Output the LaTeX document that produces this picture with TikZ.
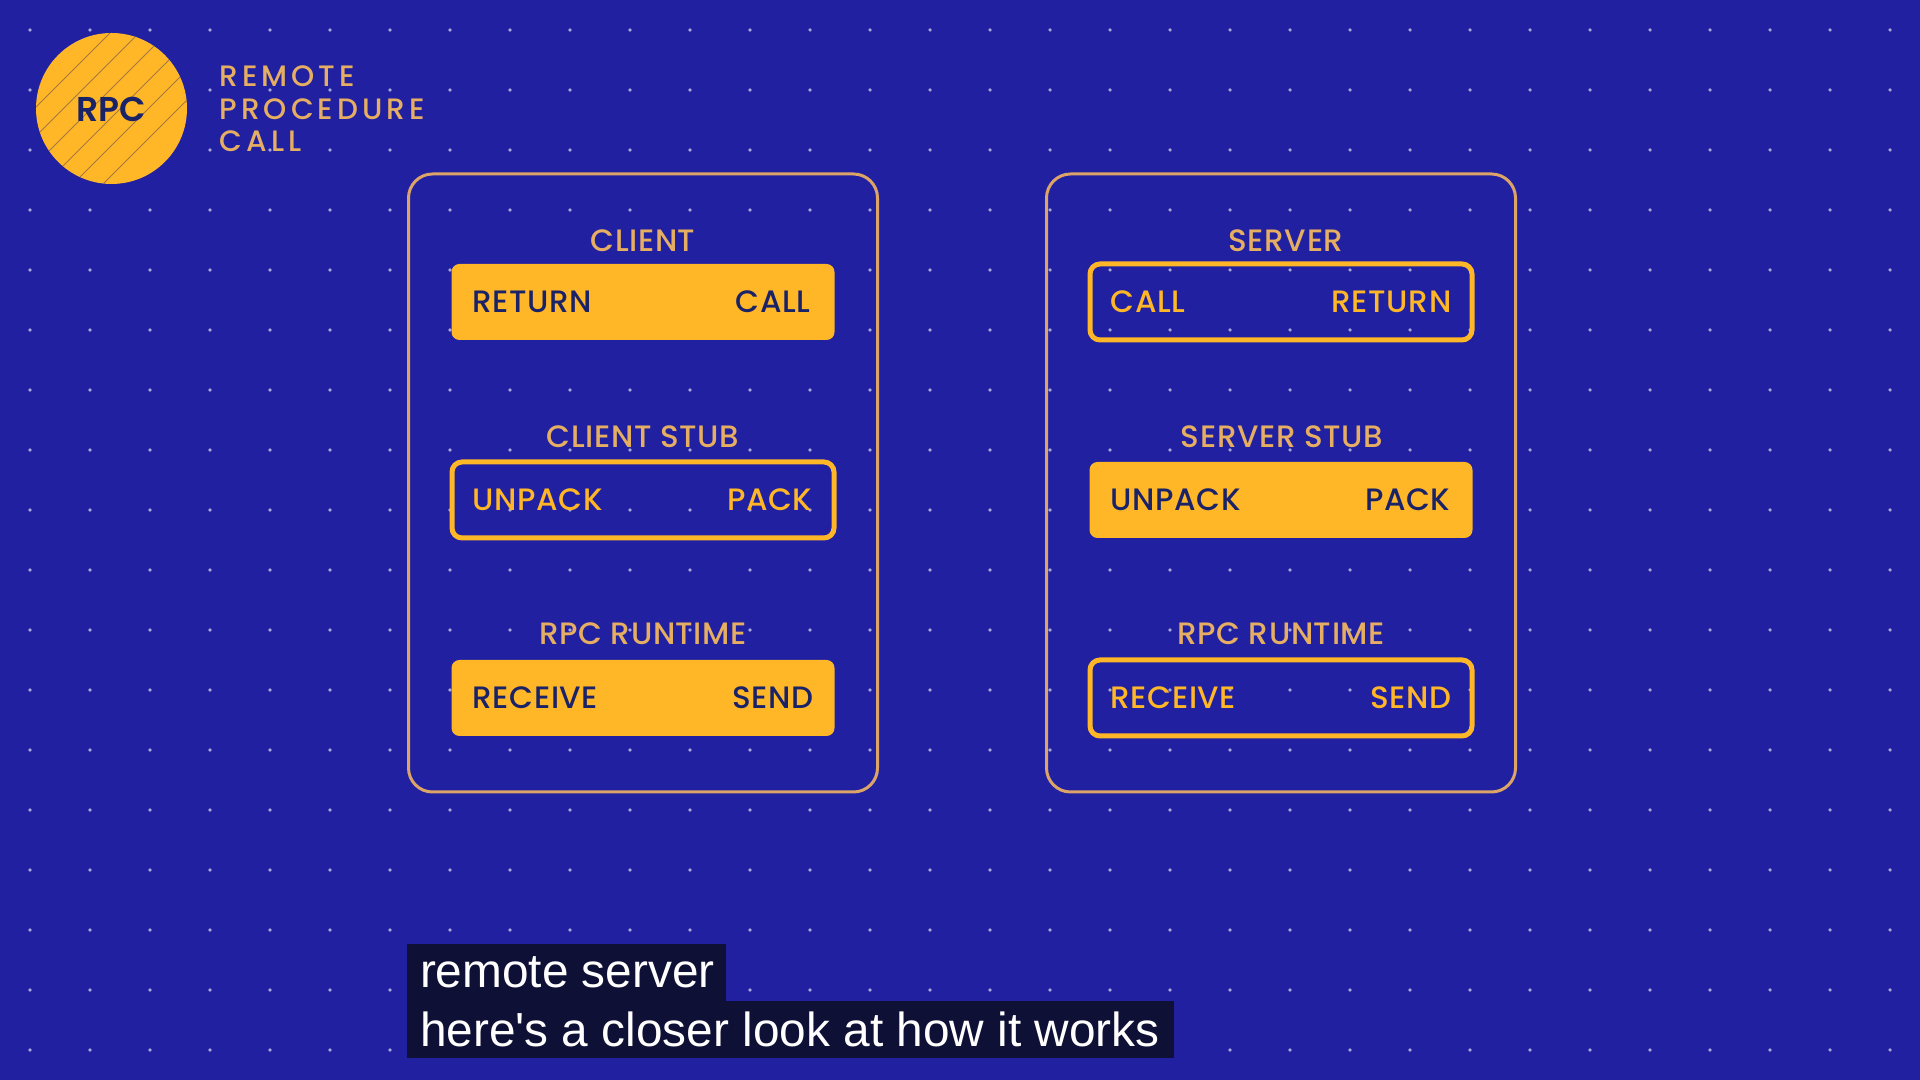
\documentclass[tikz,border=0pt]{standalone}
\usepackage{fontspec}
\setmainfont[LetterSpace=2]{Poppins Medium}
\newfontfamily\capfont{Liberation Sans}
\newfontfamily\headfont[LetterSpace=13.5]{Poppins Medium}
\newfontfamily\logofont{Poppins SemiBold}
\usepackage{xcolor}
\usetikzlibrary{positioning,calc}
\definecolor{bgblue}{HTML}{2020A0}
\definecolor{gold}{HTML}{FFB627}
\definecolor{sand}{HTML}{E6AE62}
\definecolor{edge}{HTML}{DDA468}
\definecolor{ink}{HTML}{1A2368}
\definecolor{capbg}{HTML}{0F1035}
\begin{document}
\begin{tikzpicture}[
    panel/.style={draw=edge, line width=0.03cm, rounded corners=0.24cm, minimum width=4.69cm, minimum height=6.18cm},
    solidbar/.style={fill=gold, rounded corners=0.08cm, minimum width=3.83cm, minimum height=0.76cm},
    openbar/.style={draw=gold, line width=0.05cm, rounded corners=0.1cm, minimum width=3.82cm, minimum height=0.76cm},
    title/.style={text=sand, font=\fontsize{8.8}{10}\selectfont},
    darklabel/.style={text=ink, inner xsep=0pt, font=\fontsize{8.8}{10}\selectfont},
    goldlabel/.style={text=gold, inner xsep=0pt, font=\fontsize{8.8}{10}\selectfont},
    heading/.style={text=sand, align=left, anchor=west, inner xsep=0pt, font=\fontsize{8.4}{9.3}\selectfont\headfont},
    capbox/.style={fill=capbg, text=white, inner xsep=0.13cm, inner ysep=0pt, minimum height=0.57cm, font=\fontsize{13.6}{15}\selectfont\capfont}
  ]
  % background
  \fill[bgblue] (0,0) rectangle (19.2,10.8);
  \foreach \x in {0,...,31}
    \foreach \y in {0,...,17}
      \fill[white!60!bgblue] (0.3+0.6*\x,0.3+0.6*\y) circle (0.018);
  % Logo
  \node[circle, fill=gold, minimum size=1.51cm, inner sep=0pt] (logo) at (1.115,9.715) {};
  \begin{scope}
    \clip (1.115,9.715) circle (0.755);
    \foreach \s in {1.43,1.72,2.00,2.29,2.57,2.87}
      \draw[ink!40!gold, line width=0.008cm] (\s-2,10.8-2) -- (\s,10.8);
  \end{scope}
  \node[text=ink, font=\fontsize{9.8}{10}\selectfont\logofont] (rpc) at (1.115,9.705) {RPC};
  \node[heading] (head) at (2.19,9.71) {REMOTE\\PROCEDURE\\CALL};
  % Client
  \node[panel] (clientbox) at (6.43,5.97) {};
  \node[title] (client) at (6.43,8.39) {CLIENT};
  \node[solidbar] (clientbar) at (6.43,7.78) {};
  \node[darklabel, anchor=west] (clientreturn) at (4.72,7.78) {RETURN};
  \node[darklabel, anchor=east] (clientcall) at (8.11,7.78) {CALL};
  \node[title] (cstub) at (6.43,6.43) {CLIENT STUB};
  \node[openbar] (cstubbar) at (6.43,5.8) {};
  \node[goldlabel, anchor=west] (cunpack) at (4.72,5.8) {UNPACK};
  \node[goldlabel, anchor=east] (cpack) at (8.13,5.8) {PACK};
  \node[title] (crun) at (6.43,4.46) {RPC RUNTIME};
  \node[solidbar] (crunbar) at (6.43,3.82) {};
  \node[darklabel, anchor=west] (creceive) at (4.72,3.82) {RECEIVE};
  \node[darklabel, anchor=east] (csend) at (8.14,3.82) {SEND};
  % Server
  \node[panel] (serverbox) at (12.81,5.97) {};
  \node[title] (server) at (12.86,8.39) {SERVER};
  \node[openbar] (serverbar) at (12.81,7.78) {};
  \node[goldlabel, anchor=west] (servercall) at (11.1,7.78) {CALL};
  \node[goldlabel, anchor=east] (serverreturn) at (14.52,7.78) {RETURN};
  \node[title] (sstub) at (12.82,6.43) {SERVER STUB};
  \node[solidbar] (sstubbar) at (12.81,5.8) {};
  \node[darklabel, anchor=west] (sunpack) at (11.1,5.8) {UNPACK};
  \node[darklabel, anchor=east] (spack) at (14.51,5.8) {PACK};
  \node[title] (srun) at (12.81,4.46) {RPC RUNTIME};
  \node[openbar] (srunbar) at (12.81,3.82) {};
  \node[goldlabel, anchor=west] (sreceive) at (11.1,3.82) {RECEIVE};
  \node[goldlabel, anchor=east] (ssend) at (14.52,3.82) {SEND};
  % Captions
  \node[capbox] (captop) at (5.665,1.075) {\makebox[2.93cm][l]{remote server}};
  \node[capbox] (capbottom) at (7.905,0.505) {\makebox[7.41cm][l]{here's a closer look at how it works}};
\end{tikzpicture}
\end{document}
